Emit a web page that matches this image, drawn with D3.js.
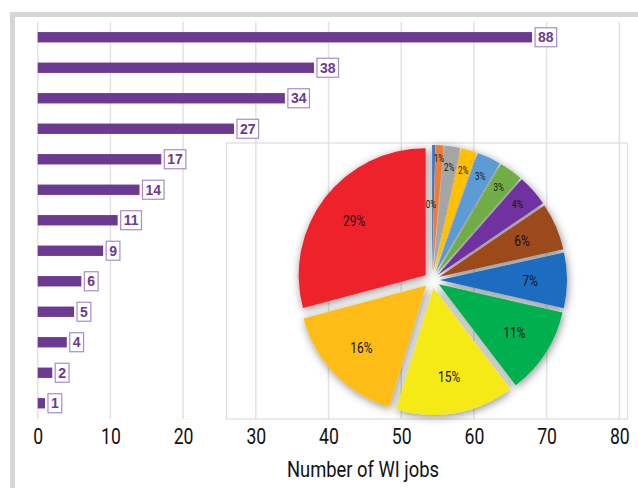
<!DOCTYPE html>
<html>
<head>
<meta charset="utf-8">
<script src="https://cdn.jsdelivr.net/npm/d3@7"></script>
<style>
  body { margin: 0; background: #fff; }
  .narrow { font-family: Roboto, "Liberation Sans", sans-serif; }
</style>
</head>
<body>
<div id="chart"></div>
<script>
// bar chart data (top to bottom)
const jobs = [88, 38, 34, 27, 17, 14, 11, 9, 6, 5, 4, 2, 1];
const xTicks = [0, 10, 20, 30, 40, 50, 60, 70, 80];
const axisTitle = 'Number of WI jobs';

// pie data, clockwise from 12 o'clock (percent)
const shares = [0.4, 1, 2, 2, 3, 3, 4, 6, 7, 11, 15, 16, 29];
const shareColors = ['#4472c4', '#ed7d31', '#a5a5a5', '#ffc000', '#5b9bd5', '#70ad47',
  '#7030a0', '#9c4a1c', '#1f6dbf', '#00b050', '#f5e918', '#fdbd14', '#ee2229'];

const width = 638, height = 488;
const purple = '#6c3a92';
const squeeze = 0.8; // fake a condensed face

const svg = d3.select('#chart')
  .append('svg')
  .attr('width', width)
  .attr('height', height);

// grey frame on top and left
svg.append('rect').attr('x', 10).attr('y', 12).attr('width', width - 10).attr('height', 5).attr('fill', '#d6d6d6');
svg.append('rect').attr('x', 10).attr('y', 12).attr('width', 5).attr('height', height - 12).attr('fill', '#d6d6d6');

const x = d3.scaleLinear().domain([0, 80]).range([37.7, 619.3]);
const y = d3.scaleBand()
  .domain(d3.range(jobs.length))
  .range([22, 418.5])
  .paddingInner(0.66)
  .paddingOuter(0.33);

// gridlines
svg.append('g')
  .selectAll('line')
  .data(xTicks)
  .enter().append('line')
  .attr('x1', d => x(d)).attr('x2', d => x(d))
  .attr('y1', 22).attr('y2', 419)
  .attr('stroke', '#e2e2e2')
  .attr('stroke-width', 1.5);

// axis labels
const axis = d3.axisBottom(x).tickValues(xTicks).tickSize(0).tickPadding(9);
const gAxis = svg.append('g')
  .attr('transform', 'translate(0,419)')
  .call(axis);
gAxis.select('.domain').remove();
gAxis.selectAll('text')
  .attr('class', 'narrow')
  .attr('font-size', 22)
  .attr('fill', '#111')
  .attr('transform', `scale(${squeeze},1)`);

svg.append('text')
  .attr('class', 'narrow')
  .attr('x', 287).attr('y', 477)
  .attr('font-size', 22)
  .attr('fill', '#111')
  .attr('textLength', 152)
  .attr('lengthAdjust', 'spacingAndGlyphs')
  .text(axisTitle);

// bars; the longest one is cut short, as in the source
const barCap = 68;
const bars = svg.append('g');
bars.selectAll('rect')
  .data(jobs)
  .enter().append('rect')
  .attr('x', x(0))
  .attr('y', (d, i) => y(i))
  .attr('width', d => x(Math.min(d, barCap)) - x(0))
  .attr('height', y.bandwidth())
  .attr('fill', purple);

// value boxes
const boxes = bars.selectAll('g.val')
  .data(jobs)
  .enter().append('g')
  .attr('class', 'val');

boxes.each(function(d, i) {
  const g = d3.select(this);
  const cy = y(i) + y.bandwidth() / 2;
  const x0 = x(Math.min(d, barCap)) + 3;
  const t = g.append('text')
    .attr('y', cy + 5)
    .attr('font-family', '"Liberation Sans", Arial, sans-serif')
    .attr('font-weight', 'bold')
    .attr('font-size', 14)
    .attr('fill', purple)
    .text(d);
  const w = t.node().getComputedTextLength();
  g.insert('rect', 'text')
    .attr('x', x0).attr('y', cy - 9.5)
    .attr('width', w + 6).attr('height', 19)
    .attr('fill', '#fff')
    .attr('stroke', '#a78cca')
    .attr('stroke-width', 1.2);
  t.attr('x', x0 + 3);
});

// pie inset panel
svg.append('rect')
  .attr('x', 226.5).attr('y', 143)
  .attr('width', 401).attr('height', 276)
  .attr('fill', 'none')
  .attr('stroke', '#dcdcdc')
  .attr('stroke-width', 1.2);

const defs = svg.append('defs');
defs.append('filter')
  .attr('id', 'shadow')
  .attr('x', '-20%').attr('y', '-20%').attr('width', '140%').attr('height', '140%')
  .append('feDropShadow')
  .attr('dx', 1).attr('dy', 2)
  .attr('stdDeviation', 4)
  .attr('flood-color', '#000')
  .attr('flood-opacity', 0.45);

const cx = 432, cy = 280, radius = 127, explode = 8;
const pie = d3.pie().sort(null).value(d => d);
const arc = d3.arc().innerRadius(0).outerRadius(radius);
const arcs = pie(shares);

const pieG = svg.append('g')
  .attr('transform', `translate(${cx},${cy})`);

pieG.append('g')
  .attr('filter', 'url(#shadow)')
  .selectAll('path')
  .data(arcs)
  .enter().append('path')
  .attr('d', arc)
  .attr('fill', (d, i) => shareColors[i])
  .attr('transform', d => {
    const a = (d.startAngle + d.endAngle) / 2;
    return `translate(${explode * Math.sin(a)},${-explode * Math.cos(a)})`;
  });

function labelRadius(v) {
  if (v < 1) return 76;
  if (v < 2) return 122;
  if (v < 5) return 114;
  return 98;
}

pieG.append('g')
  .selectAll('text')
  .data(arcs)
  .enter().append('text')
  .attr('class', 'narrow')
  .attr('text-anchor', 'middle')
  .attr('dy', '0.35em')
  .attr('font-size', d => d.data >= 5 ? 15 : (d.data >= 4 ? 11 : 10))
  .attr('fill', '#111')
  .attr('transform', d => {
    const a = (d.startAngle + d.endAngle) / 2;
    const r = labelRadius(d.data);
    const lx = r * Math.sin(a) - (d.data < 1 ? 2 : 0);
    const ly = -r * Math.cos(a);
    return `translate(${lx},${ly}) scale(${squeeze},1)`;
  })
  .text(d => Math.round(d.data) + '%');
</script>
</body>
</html>
